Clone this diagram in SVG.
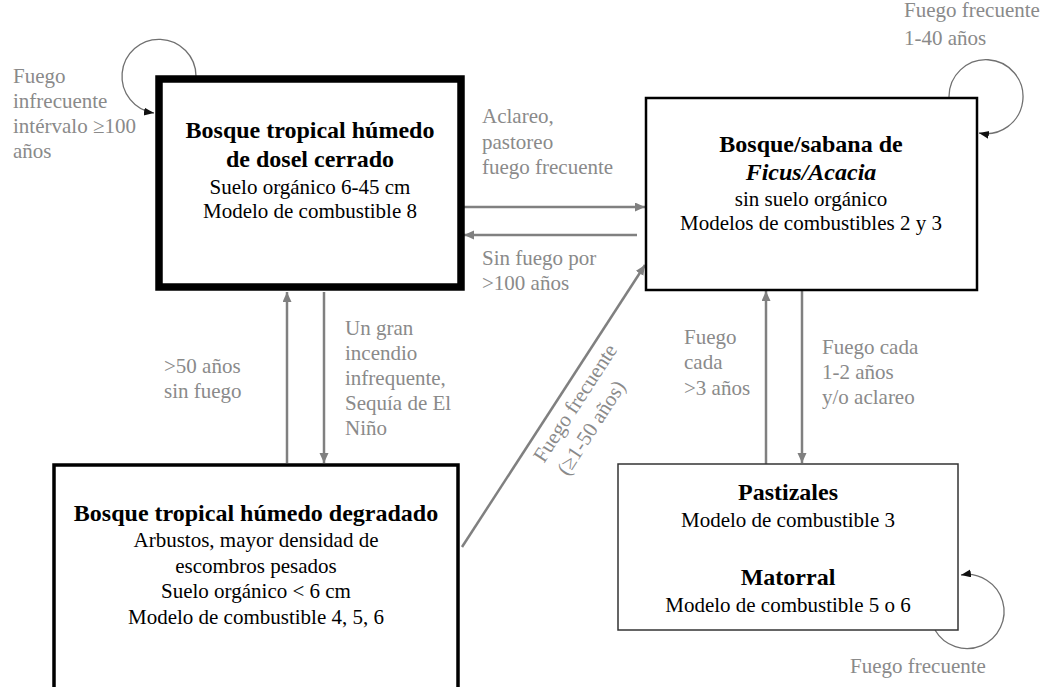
<svg xmlns="http://www.w3.org/2000/svg" width="1050" height="687" viewBox="0 0 1050 687" font-family="Times New Roman, Liberation Serif, Tinos, serif">
<defs>
<marker id="ag" markerUnits="userSpaceOnUse" markerWidth="12" markerHeight="10" refX="10" refY="4.5" orient="auto">
<path d="M0,0 L10,4.5 L0,9 z" fill="#808080"/>
</marker>
<marker id="ab" markerUnits="userSpaceOnUse" markerWidth="12" markerHeight="10" refX="10" refY="4" orient="auto">
<path d="M0,0 L10,4 L0,8 z" fill="#111"/>
</marker>
</defs>
<rect width="1050" height="687" fill="#fff"/>

<g id="connectors" fill="none">
<g stroke="#707070" stroke-width="1.3" marker-end="url(#ab)">
<path d="M196,76 A37,37 0 1 0 154,113"/>
<path d="M949,97 A37,37 0 1 1 979,133"/>
<path d="M935,630 A37,37 0 1 0 961,575"/>
</g>
<g stroke="#808080" stroke-width="2.5" marker-end="url(#ag)">
<line x1="464" y1="207" x2="645" y2="207"/>
<line x1="637" y1="235" x2="464" y2="235"/>
<line x1="287" y1="463" x2="287" y2="292"/>
<line x1="324" y1="292" x2="324" y2="463"/>
<line x1="766" y1="464" x2="766" y2="291"/>
<line x1="802" y1="291" x2="802" y2="463"/>
<line x1="462" y1="547" x2="645" y2="265"/>
</g>
</g>

<g id="labels" font-size="21" fill="#8a8a8a">
<text x="13" y="83">Fuego</text>
<text x="13" y="108">infrecuente</text>
<text x="13" y="133">intérvalo ≥100</text>
<text x="13" y="158">años</text>
<text x="904" y="17">Fuego frecuente</text>
<text x="904" y="45">1-40 años</text>
<text x="850" y="673">Fuego frecuente</text>
<text x="482" y="123">Aclareo,</text>
<text x="482" y="149">pastoreo</text>
<text x="482" y="174">fuego frecuente</text>
<text x="482" y="265">Sin fuego por</text>
<text x="482" y="290">&gt;100 años</text>
<text x="164" y="373">&gt;50 años</text>
<text x="164" y="398">sin fuego</text>
<text x="345" y="335">Un gran</text>
<text x="345" y="360">incendio</text>
<text x="345" y="385">infrequente,</text>
<text x="345" y="410">Sequía de El</text>
<text x="345" y="435">Niño</text>
<text x="684" y="344">Fuego</text>
<text x="684" y="369">cada</text>
<text x="684" y="395">&gt;3 años</text>
<text x="822" y="354">Fuego cada</text>
<text x="822" y="379">1-2 años</text>
<text x="822" y="404">y/o aclareo</text>
<g transform="translate(575,403) rotate(-57)" text-anchor="middle">
<text x="0" y="7">Fuego frecuente</text>
<text x="-12" y="34">(≥1-50 años)</text>
</g>
</g>

<g id="node-bosque-cerrado" text-anchor="middle" fill="#000">
<rect x="159" y="79" width="302" height="208" fill="#fff" stroke="#000" stroke-width="7.5"/>
<text x="310" y="138" font-size="24" font-weight="bold">Bosque tropical húmedo</text>
<text x="310" y="167" font-size="24" font-weight="bold">de dosel cerrado</text>
<text x="310" y="194" font-size="21">Suelo orgánico 6-45 cm</text>
<text x="310" y="218" font-size="21">Modelo de combustible 8</text>
</g>

<g id="node-ficus" text-anchor="middle" fill="#000">
<rect x="646" y="98" width="331" height="192" fill="#fff" stroke="#000" stroke-width="2.5"/>
<text x="811" y="152" font-size="24" font-weight="bold">Bosque/sabana de</text>
<text x="811" y="180" font-size="24" font-weight="bold" font-style="italic">Ficus/Acacia</text>
<text x="811" y="206" font-size="21">sin suelo orgánico</text>
<text x="811" y="230" font-size="21">Modelos de combustibles 2 y 3</text>
</g>

<g id="node-degradado" text-anchor="middle" fill="#000">
<rect x="54" y="465" width="404" height="240" fill="#fff" stroke="#000" stroke-width="3.5"/>
<text x="256" y="521" font-size="24" font-weight="bold">Bosque tropical húmedo degradado</text>
<text x="256" y="547" font-size="21">Arbustos, mayor densidad de</text>
<text x="256" y="573" font-size="21">escombros pesados</text>
<text x="256" y="598" font-size="21">Suelo orgánico &lt; 6 cm</text>
<text x="256" y="624" font-size="21">Modelo de combustible 4, 5, 6</text>
</g>

<g id="node-pastizales" text-anchor="middle" fill="#000">
<rect x="618" y="464" width="340" height="166" fill="#fff" stroke="#333" stroke-width="1.5"/>
<text x="788" y="500" font-size="24" font-weight="bold">Pastizales</text>
<text x="788" y="527" font-size="21">Modelo de combustible 3</text>
<text x="788" y="585" font-size="24" font-weight="bold">Matorral</text>
<text x="788" y="612" font-size="21">Modelo de combustible 5 o 6</text>
</g>
</svg>
